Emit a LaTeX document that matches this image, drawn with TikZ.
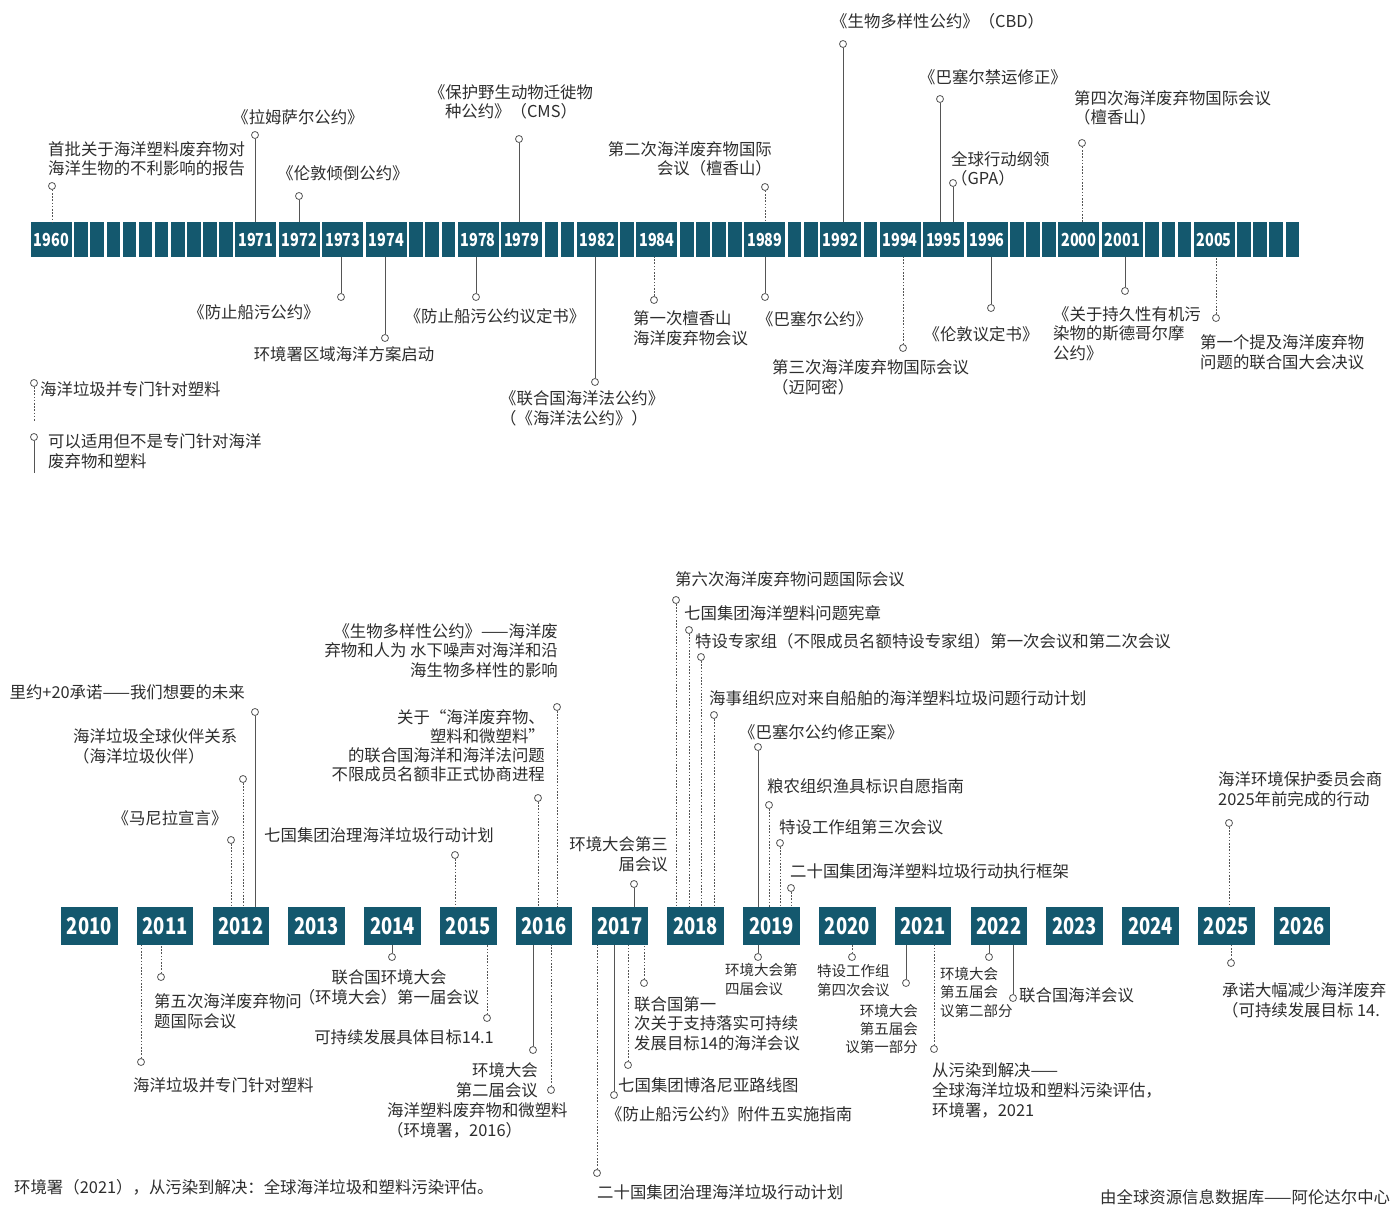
\documentclass[tikz,border=0pt]{standalone}
\usepackage{fontspec}
\setmainfont{Noto Sans CJK SC}
\newfontfamily\yearfont{Noto Sans CJK SC}[FakeStretch=0.8]
\usetikzlibrary{positioning}

\definecolor{barteal}{RGB}{20,88,110}
\definecolor{linegray}{RGB}{85,85,85}
\definecolor{textgray}{RGB}{45,45,45}

% years that get a labelled box on the upper bar
\foreach \w in {1960,1971,1972,1973,1974,1978,1979,1982,1984,1989,1992,1994,1995,1996,2000,2001,2005}
  {\expandafter\gdef\csname wide\w\endcsname{}}

\begin{document}
\begin{tikzpicture}[
    x=1pt,y=-1pt,
    yrbox/.style={
        fill=barteal,
        text=white,
        inner sep=0pt,
        outer sep=0pt,
        minimum width=41pt,
        minimum height=35pt,
        font=\yearfont\bfseries\fontsize{18}{18}\selectfont
      },
    yrslot/.style={fill=barteal,inner sep=0pt,outer sep=0pt,minimum width=13.6pt,minimum height=35pt},
    bigbox/.style={
        fill=barteal,
        text=white,
        inner sep=0pt,
        outer sep=0pt,
        minimum width=56.5pt,
        minimum height=37.5pt,
        font=\yearfont\bfseries\fontsize{23}{23}\selectfont
      },
    knob/.style={circle,draw=linegray,fill=white,line width=0.8pt,minimum size=7pt,inner sep=0pt},
    solidln/.style={draw=linegray,line width=1pt},
    dotln/.style={draw=linegray,line width=1pt,dash pattern=on 1.6pt off 1.6pt},
    lab/.style={inner sep=0pt,text=textgray,align=left,font=\fontsize{16.4}{19.5}\selectfont},
    small/.style={font=\fontsize{14.5}{18.5}\selectfont}
    ]
    \useasboundingbox (0,0) rectangle (1392,1206);

    % upper bar 1960-2009
    \node[yrbox,anchor=west] (t1960) at (30.8,239.5) {1960};
    \foreach \yr [evaluate=\yr as \prv using int(\yr-1)] in {1961,...,2009}{
      \ifcsname wide\yr\endcsname
        \node[yrbox,right=2.5pt of t\prv] (t\yr) {\yr};
      \else
        \node[yrslot,right=2.5pt of t\prv] (t\yr) {};
      \fi
    }

    % lower bar 2010-2026
    \foreach \yr [count=\i from 0] in {2010,...,2026}
      \node[bigbox] (b\yr) at ({89.3+75.8*\i},926) {\yr};

    % upper bar, events above
    \node[knob] (k1960) at (52,186) {};
    \node[lab,anchor=base west] (l1960) at (48,175) {首批关于海洋塑料废弃物对\\海洋生物的不利影响的报告};
    \node[knob] (k1971) at (255,135) {};
    \node[lab,anchor=base] (l1971) at (298,124) {《拉姆萨尔公约》};
    \node[knob] (k1972) at (299,196) {};
    \node[lab,anchor=base] (l1972) at (343,180) {《伦敦倾倒公约》};
    \node[knob] (k1979) at (519,139) {};
    \node[lab,anchor=base,align=center] (l1979) at (511,118) {《保护野生动物迁徙物\\种公约》（CMS）};
    \node[knob] (k1989a) at (765,187) {};
    \node[lab,anchor=base east,align=right] (l1989a) at (772,175) {第二次海洋废弃物国际\\会议（檀香山）};
    \node[knob] (k1992) at (843,44) {};
    \node[lab,anchor=base west] (l1992) at (831,28) {《生物多样性公约》（CBD）};
    \node[knob] (k1995a) at (940,99) {};
    \node[lab,anchor=base west] (l1995a) at (919,84) {《巴塞尔禁运修正》};
    \node[knob] (k1995b) at (953,183) {};
    \node[lab,anchor=base west] (l1995b) at (951,185) {全球行动纲领\\（GPA）};
    \node[knob] (k2000) at (1082,143) {};
    \node[lab,anchor=base west] (l2000) at (1074,124) {第四次海洋废弃物国际会议\\（檀香山）};

    \draw[dotln] (k1960) -- (k1960 |- t1960.north);
    \draw[solidln] (k1971) -- (k1971 |- t1971.north);
    \draw[solidln] (k1972) -- (k1972 |- t1972.north);
    \draw[solidln] (k1979) -- (k1979 |- t1979.north);
    \draw[dotln] (k1989a) -- (k1989a |- t1989.north);
    \draw[solidln] (k1992) -- (k1992 |- t1992.north);
    \draw[solidln] (k1995a) -- (k1995a |- t1995.north);
    \draw[solidln] (k1995b) -- (k1995b |- t1995.north);
    \draw[dotln] (k2000) -- (k2000 |- t2000.north);

    % upper bar, events below
    \node[knob] (k1973) at (341,297) {};
    \node[lab,anchor=base] (l1973) at (254,319) {《防止船污公约》};
    \node[knob] (k1974) at (385,338) {};
    \node[lab,anchor=base] (l1974) at (344,360) {环境署区域海洋方案启动};
    \node[knob] (k1978) at (476,297) {};
    \node[lab,anchor=base] (l1978) at (495,323) {《防止船污公约议定书》};
    \node[knob] (k1982) at (595,382) {};
    \node[lab,anchor=base west] (l1982) at (500,424) {《联合国海洋法公约》\\（《海洋法公约》）};
    \node[knob] (k1984) at (654,300) {};
    \node[lab,anchor=base west] (l1984) at (633,344) {第一次檀香山\\海洋废弃物会议};
    \node[knob] (k1989b) at (765,297) {};
    \node[lab,anchor=base west] (l1989b) at (757,325) {《巴塞尔公约》};
    \node[knob] (k1994) at (903,348) {};
    \node[lab,anchor=base west] (l1994) at (772,393) {第三次海洋废弃物国际会议\\（迈阿密）};
    \node[knob] (k1996) at (991,308) {};
    \node[lab,anchor=base] (l1996) at (981,340) {《伦敦议定书》};
    \node[knob] (k2001) at (1125,291) {};
    \node[lab,anchor=base west] (l2001) at (1053,359) {《关于持久性有机污\\染物的斯德哥尔摩\\公约》};
    \node[knob] (k2005) at (1216,318) {};
    \node[lab,anchor=base west] (l2005) at (1200,368) {第一个提及海洋废弃物\\问题的联合国大会决议};

    \draw[solidln] (k1973) -- (k1973 |- t1973.south);
    \draw[solidln] (k1974) -- (k1974 |- t1974.south);
    \draw[solidln] (k1978) -- (k1978 |- t1978.south);
    \draw[solidln] (k1982) -- (k1982 |- t1982.south);
    \draw[dotln] (k1984) -- (k1984 |- t1984.south);
    \draw[solidln] (k1989b) -- (k1989b |- t1989.south);
    \draw[dotln] (k1994) -- (k1994 |- t1994.south);
    \draw[solidln] (k1996) -- (k1996 |- t1996.south);
    \draw[solidln] (k2001) -- (k2001 |- t2001.south);
    \draw[dotln] (k2005) -- (k2005 |- t2005.south);

    % legend
    \node[knob] (kLegA) at (34,383) {};
    \coordinate (legA) at (34,422);
    \node[lab,anchor=base west] (lLegA) at (40,395) {海洋垃圾并专门针对塑料};
    \node[knob] (kLegB) at (34,437) {};
    \coordinate (legB) at (34,473);
    \node[lab,anchor=base west] (lLegB) at (48,467) {可以适用但不是专门针对海洋\\废弃物和塑料};
    \draw[dotln] (kLegA) -- (legA);
    \draw[solidln] (kLegB) -- (legB);

    % lower bar, events above
    \node[knob] (k2012a) at (255,712) {};
    \node[lab,anchor=base east] (l2012a) at (245,698) {里约+20承诺——我们想要的未来};
    \node[knob] (k2012b) at (243,779) {};
    \node[lab,anchor=base west] (l2012b) at (73,762) {海洋垃圾全球伙伴关系\\（海洋垃圾伙伴）};
    \node[knob] (k2012c) at (231,840) {};
    \node[lab,anchor=base] (l2012c) at (170,824) {《马尼拉宣言》};
    \node[knob] (k2015a) at (455,855) {};
    \node[lab,anchor=base west] (l2015a) at (264,841) {七国集团治理海洋垃圾行动计划};
    \node[knob] (k2016a) at (557,707) {};
    \node[lab,anchor=base east,align=right] (l2016a) at (558,676) {《生物多样性公约》——海洋废\\弃物和人为 水下噪声对海洋和沿\\海生物多样性的影响};
    \node[knob] (k2016b) at (538,798) {};
    \node[lab,anchor=base east,align=right,font=\fontsize{16.4}{19}\selectfont] (l2016b) at (545,780) {关于“海洋废弃物、\\塑料和微塑料”\\的联合国海洋和海洋法问题\\不限成员名额非正式协商进程};
    \node[knob] (k2017a) at (634,884) {};
    \node[lab,anchor=base east,align=right] (l2017a) at (668,870) {环境大会第三\\届会议};
    \node[knob] (k2018a) at (676,600) {};
    \node[lab,anchor=base west] (l2018a) at (675,585) {第六次海洋废弃物问题国际会议};
    \node[knob] (k2018b) at (689,630) {};
    \node[lab,anchor=base west] (l2018b) at (684,619) {七国集团海洋塑料问题宪章};
    \node[knob] (k2018c) at (701,657) {};
    \node[lab,anchor=base west] (l2018c) at (695,647) {特设专家组（不限成员名额特设专家组）第一次会议和第二次会议};
    \node[knob] (k2018d) at (714,715) {};
    \node[lab,anchor=base west] (l2018d) at (709,704) {海事组织应对来自船舶的海洋塑料垃圾问题行动计划};
    \node[knob] (k2019a) at (758,747) {};
    \node[lab,anchor=base west] (l2019a) at (739,738) {《巴塞尔公约修正案》};
    \node[knob] (k2019b) at (769,805) {};
    \node[lab,anchor=base west] (l2019b) at (767,792) {粮农组织渔具标识自愿指南};
    \node[knob] (k2019c) at (780,843) {};
    \node[lab,anchor=base west] (l2019c) at (779,833) {特设工作组第三次会议};
    \node[knob] (k2019d) at (791,888) {};
    \node[lab,anchor=base west] (l2019d) at (790,877) {二十国集团海洋塑料垃圾行动执行框架};
    \node[knob] (k2025a) at (1229,823) {};
    \node[lab,anchor=base west] (l2025a) at (1218,805) {海洋环境保护委员会商\\2025年前完成的行动};

    \draw[solidln] (k2012a) -- (k2012a |- b2012.north);
    \draw[dotln] (k2012b) -- (k2012b |- b2012.north);
    \draw[dotln] (k2012c) -- (k2012c |- b2012.north);
    \draw[dotln] (k2015a) -- (k2015a |- b2015.north);
    \draw[dotln] (k2016a) -- (k2016a |- b2016.north);
    \draw[dotln] (k2016b) -- (k2016b |- b2016.north);
    \draw[solidln] (k2017a) -- (k2017a |- b2017.north);
    \draw[dotln] (k2018a) -- (k2018a |- b2018.north);
    \draw[dotln] (k2018b) -- (k2018b |- b2018.north);
    \draw[dotln] (k2018c) -- (k2018c |- b2018.north);
    \draw[dotln] (k2018d) -- (k2018d |- b2018.north);
    \draw[solidln] (k2019a) -- (k2019a |- b2019.north);
    \draw[dotln] (k2019b) -- (k2019b |- b2019.north);
    \draw[dotln] (k2019c) -- (k2019c |- b2019.north);
    \draw[dotln] (k2019d) -- (k2019d |- b2019.north);
    \draw[dotln] (k2025a) -- (k2025a |- b2025.north);

    % lower bar, events below
    \node[knob] (k2011a) at (141,1062) {};
    \node[lab,anchor=base west] (l2011a) at (133,1091) {海洋垃圾并专门针对塑料};
    \node[knob] (k2011b) at (161,977) {};
    \node[lab,anchor=base west] (l2011b) at (154,1027) {第五次海洋废弃物问\\题国际会议};
    \node[knob] (k2014) at (392,957) {};
    \node[lab,anchor=base,align=center] (l2014) at (389,1003) {联合国环境大会\\（环境大会）第一届会议};
    \node[knob] (k2015b) at (487,1018) {};
    \node[lab,anchor=base east] (l2015b) at (494,1043) {可持续发展具体目标14.1};
    \node[knob] (k2016c) at (533,1050) {};
    \node[lab,anchor=base east,align=right] (l2016c) at (538,1096) {环境大会\\第二届会议};
    \node[knob] (k2016d) at (551,1090) {};
    \node[lab,anchor=base west] (l2016d) at (387,1136) {海洋塑料废弃物和微塑料\\（环境署，2016）};
    \node[knob] (k2017b) at (597,1173) {};
    \node[lab,anchor=base west] (l2017b) at (597,1198) {二十国集团治理海洋垃圾行动计划};
    \node[knob] (k2017c) at (614,1095) {};
    \node[lab,anchor=base west] (l2017c) at (606,1120) {《防止船污公约》附件五实施指南};
    \node[knob] (k2017d) at (628,1065) {};
    \node[lab,anchor=base west] (l2017d) at (618,1091) {七国集团博洛尼亚路线图};
    \node[knob] (k2017e) at (644,983) {};
    \node[lab,anchor=base west] (l2017e) at (634,1049) {联合国第一\\次关于支持落实可持续\\发展目标14的海洋会议};
    \node[knob] (k2019e) at (758,957) {};
    \node[lab,small,anchor=base west] (l2019e) at (725,994) {环境大会第\\四届会议};
    \node[knob] (k2020) at (852,957) {};
    \node[lab,small,anchor=base west] (l2020) at (817,995) {特设工作组\\第四次会议};
    \node[knob] (k2021a) at (906,983) {};
    \node[lab,small,anchor=base east,align=right,font=\fontsize{14.5}{18}\selectfont] (l2021a) at (918,1052) {环境大会\\第五届会\\议第一部分};
    \node[knob] (k2021b) at (934,1049) {};
    \node[lab,anchor=base west,font=\fontsize{16.4}{20}\selectfont] (l2021b) at (932,1116) {从污染到解决——\\全球海洋垃圾和塑料污染评估，\\环境署，2021};
    \node[knob] (k2022a) at (989,957) {};
    \node[lab,small,anchor=base west] (l2022a) at (940,1016) {环境大会\\第五届会\\议第二部分};
    \node[knob] (k2022b) at (1013,998) {};
    \node[lab,anchor=base west] (l2022b) at (1019,1001) {联合国海洋会议};
    \node[knob] (k2025b) at (1231,963) {};
    \node[lab,anchor=base west] (l2025b) at (1222,1016) {承诺大幅减少海洋废弃\\（可持续发展目标 14.};

    \draw[dotln] (k2011a) -- (k2011a |- b2011.south);
    \draw[dotln] (k2011b) -- (k2011b |- b2011.south);
    \draw[solidln] (k2014) -- (k2014 |- b2014.south);
    \draw[dotln] (k2015b) -- (k2015b |- b2015.south);
    \draw[solidln] (k2016c) -- (k2016c |- b2016.south);
    \draw[dotln] (k2016d) -- (k2016d |- b2016.south);
    \draw[dotln] (k2017b) -- (k2017b |- b2017.south);
    \draw[solidln] (k2017c) -- (k2017c |- b2017.south);
    \draw[dotln] (k2017d) -- (k2017d |- b2017.south);
    \draw[dotln] (k2017e) -- (k2017e |- b2017.south);
    \draw[solidln] (k2019e) -- (k2019e |- b2019.south);
    \draw[dotln] (k2020) -- (k2020 |- b2020.south);
    \draw[solidln] (k2021a) -- (k2021a |- b2021.south);
    \draw[dotln] (k2021b) -- (k2021b |- b2021.south);
    \draw[solidln] (k2022a) -- (k2022a |- b2022.south);
    \draw[solidln] (k2022b) -- (k2022b |- b2022.south);
    \draw[dotln] (k2025b) -- (k2025b |- b2025.south);

    % sources
    \node[lab,anchor=base west] (src) at (14,1193) {环境署（2021），从污染到解决：全球海洋垃圾和塑料污染评估。};
    \node[lab,anchor=base west] (credit) at (1100,1203) {由全球资源信息数据库——阿伦达尔中心};

  \end{tikzpicture}
\end{document}
